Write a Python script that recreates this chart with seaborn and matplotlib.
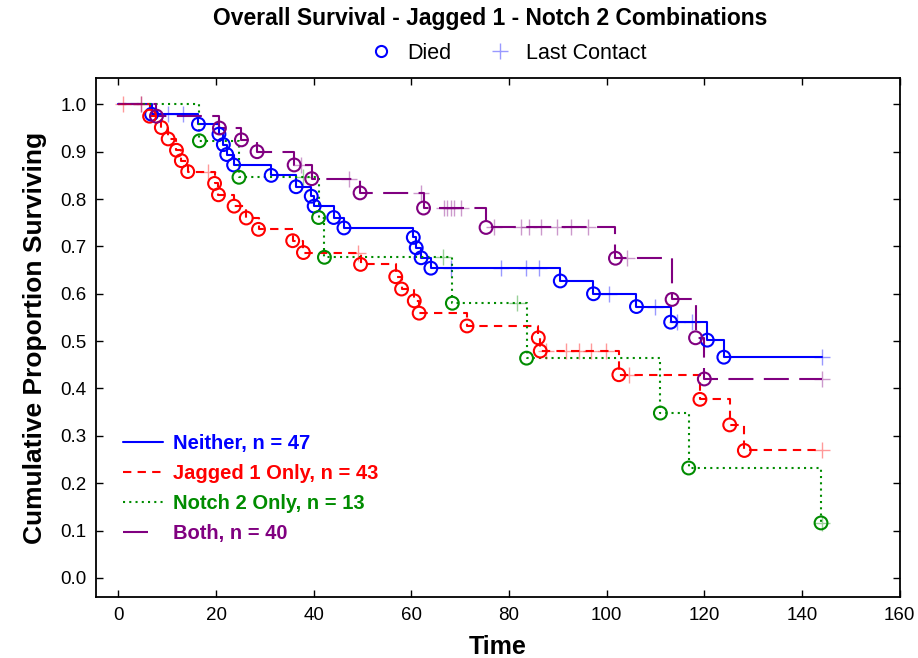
import matplotlib.pyplot as plt
import seaborn as sns
from matplotlib.lines import Line2D

# Kaplan-Meier steps: death times + survival after each death,
# and last-contact (censored) times
neither_died_t = [6.8, 16.4, 20.6, 21.5, 22.2, 23.6, 31.3, 36.4, 39.5, 40.1, 44.1, 46.2,
                  60.4, 61.0, 62.0, 64.0, 90.5, 97.3, 106.1, 113.1, 120.6, 124.0]
neither_died_s = [0.979, 0.958, 0.937, 0.915, 0.894, 0.872, 0.850, 0.826, 0.806, 0.785, 0.761, 0.739,
                  0.719, 0.697, 0.676, 0.654, 0.627, 0.600, 0.573, 0.540, 0.502, 0.466]
neither_cens_t = [10.2, 13.3, 68.1, 78.3, 83.4, 86.1, 100.4, 110.0, 114.4, 117.5, 144.1]

jagged_died_t = [6.4, 8.8, 10.2, 11.9, 12.9, 14.2, 19.7, 20.5, 23.7, 26.2, 28.7, 35.7, 37.9,
                 49.6, 56.8, 58.0, 60.6, 61.6, 71.4, 86.0, 86.4, 102.5, 119.1, 125.2, 128.2]
jagged_died_s = [0.975, 0.951, 0.927, 0.903, 0.881, 0.858, 0.833, 0.809, 0.785, 0.760, 0.736, 0.712, 0.687,
                 0.662, 0.636, 0.610, 0.585, 0.559, 0.532, 0.507, 0.479, 0.429, 0.377, 0.323, 0.269]
jagged_cens_t = [1.0, 4.7, 18.3, 49.0, 87.5, 91.6, 94.3, 96.7, 99.8, 104.6, 144.1]

notch_died_t = [16.6, 24.7, 41.0, 42.2, 68.4, 83.6, 111.0, 116.8, 143.9]
notch_died_s = [0.923, 0.846, 0.761, 0.677, 0.580, 0.464, 0.348, 0.232, 0.116]
notch_cens_t = [37.8, 66.4, 81.7, 144.0]

both_died_t = [7.8, 20.7, 25.2, 28.4, 36.0, 39.6, 49.5, 62.5, 75.3, 101.8, 113.4, 118.2, 120.0]
both_died_s = [0.975, 0.950, 0.925, 0.900, 0.872, 0.843, 0.813, 0.781, 0.740, 0.675, 0.588, 0.507, 0.420]
both_cens_t = [4.7, 37.4, 47.3, 62.0, 66.7, 67.4, 68.1, 68.8, 70.1, 77.0, 82.4, 84.1, 86.5,
               89.9, 92.6, 96.1, 104.1, 144.0]

labels = ["Neither, n = 47", "Jagged 1 Only, n = 43", "Notch 2 Only, n = 13", "Both, n = 40"]
colors = ["#0000ff", "#ff0000", "#008c00", "#800080"]
styles = ["-", (0, (4, 3)), (0, (1, 2)), (0, (12, 5))]
# legend keys: the long dash of "Both" shows as a single stroke
legend_styles = ["-", (0, (4, 3)), (0, (1, 2)), (0, (12, 40))]

groups = [(neither_died_t, neither_died_s, neither_cens_t),
          (jagged_died_t, jagged_died_s, jagged_cens_t),
          (notch_died_t, notch_died_s, notch_cens_t),
          (both_died_t, both_died_s, both_cens_t)]

sns.set_style("ticks")
plt.rcParams.update({'font.family': ['Liberation Sans', 'DejaVu Sans'],
                     'font.size': 13,
                     'text.color': 'black',
                     'axes.labelcolor': 'black',
                     'xtick.color': 'black',
                     'ytick.color': 'black',
                     'axes.edgecolor': 'black',
                     'xtick.labelsize': 13.5,
                     'ytick.labelsize': 13.5})

fig = plt.figure(figsize=(9.18, 6.58), dpi=100)
ax = fig.add_axes([0.105, 0.093, 0.875, 0.788])


def surv_at(t, died_t, died_s):
    s = 1.0
    for dt, ds in zip(died_t, died_s):
        if dt <= t:
            s = ds
    return s


for (dt, ds, ct), col, ls in zip(groups, colors, styles):
    end = max(dt + ct)
    xs = [0.0] + dt + [end]
    ys = [1.0] + ds + [ds[-1]]
    sns.lineplot(x=xs, y=ys, drawstyle='steps-post', estimator=None, sort=False,
                 color=col, linestyle=ls, linewidth=1.5, ax=ax, zorder=2)
    sns.scatterplot(x=dt, y=ds, marker='o', s=85, facecolor='none', edgecolor=col,
                    linewidth=1.5, ax=ax, zorder=3)
    cs = [surv_at(t, dt, ds) for t in ct]
    sns.scatterplot(x=ct, y=cs, marker='+', s=130, color=col, alpha=0.4,
                    linewidth=1.0, ax=ax, zorder=3)

ax.set_xlim(-4.5, 160)
ax.set_ylim(-0.04, 1.055)
ax.set_xticks(range(0, 161, 20))
ax.set_yticks([i / 10 for i in range(11)])
ax.set_yticklabels([f"{i / 10:.1f}" for i in range(11)])
ax.tick_params(direction='in', top=True, right=True, length=5, width=1, pad=7)
for sp in ax.spines.values():
    sp.set_linewidth(1.3)

ax.set_xlabel("Time", fontsize=18, fontweight='bold', labelpad=8)
ax.set_ylabel("Cumulative Proportion Surviving", fontsize=19, fontweight='bold', labelpad=10)

handles = [Line2D([], [], color=c, linestyle=s, linewidth=1.5) for c, s in zip(colors, legend_styles)]
leg = ax.legend(handles, labels, loc='lower left', bbox_to_anchor=(0.01, 0.068), frameon=False,
                handlelength=2.0, handletextpad=0.5, labelspacing=0.55,
                prop={'weight': 'bold', 'size': 14.5})
for txt, c in zip(leg.get_texts(), colors):
    txt.set_color(c)

mk = [Line2D([], [], marker='o', linestyle='none', mfc='none', mec='#0000ff', mew=1.5, ms=8),
      Line2D([], [], marker='+', linestyle='none', color='#0000ff', alpha=0.4, mew=1.0, ms=11)]
fig.legend(mk, ["Died", "Last Contact"], loc='center', bbox_to_anchor=(0.548, 0.919),
           ncol=2, frameon=False, fontsize=15.5, handletextpad=0.2, columnspacing=1.3)

fig.text(0.534, 0.972, "Overall Survival - Jagged 1 - Notch 2 Combinations",
         ha='center', va='center', fontsize=16.5, fontweight='bold')

fig.savefig("out.png", dpi=100)
